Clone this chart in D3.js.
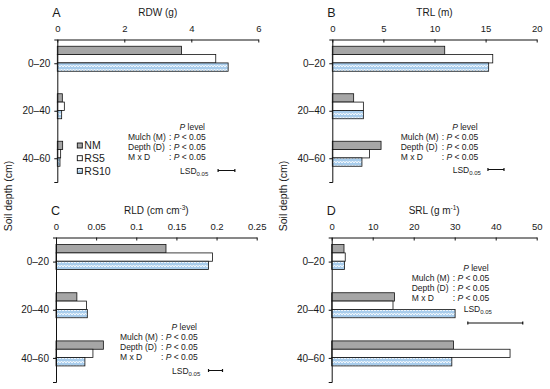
<!DOCTYPE html>
<html>
<head>
<meta charset="utf-8">
<script src="https://cdn.jsdelivr.net/npm/d3@7"></script>
<style>
  body { margin: 0; background: #fff; }
  svg { font-family: "Liberation Sans", Arial, sans-serif; }
  text { fill: #1a1a1a; }
</style>
</head>
<body>
<div class="chart"></div>
<script>
// --- data ---
const depths = ["0\u201320", "20\u201340", "40\u201360"];
const series = ["NM", "RS5", "RS10"];

const rdw = [[3.71, 4.73, 5.1], [0.15, 0.21, 0.13], [0.16, 0.1, 0.08]];
const trl = [[11.0, 15.7, 15.3], [2.09, 3.04, 3.04], [4.77, 3.63, 2.9]];
const rld = [[0.137, 0.195, 0.19], [0.026, 0.038, 0.039], [0.059, 0.046, 0.036]];
const srl = [[3.0, 3.3, 3.1], [15.3, 14.95, 30.1], [29.7, 43.5, 29.3]];

const rdwTicks = [0, 2, 4, 6];
const trlTicks = [0, 5, 10, 15, 20];
const rldTicks = [0, 0.05, 0.1, 0.15, 0.2, 0.25];
const srlTicks = [0, 10, 20, 30, 40, 50];

// LSD(0.05) bars: start value and length, in data units
const lsdStart = [4.8, 15.23, 0.19, 33.2];
const lsdValue = [0.5, 1.57, 0.0174, 13.4];

const statRows = ["Mulch (M)", "Depth (D)", "M x D"];

const width = 550, height = 389;
const svg = d3.select(".chart").append("svg")
  .attr("width", width)
  .attr("height", height);

// blue wave fill for RS10
const defs = svg.append("defs");
const pat = defs.append("pattern")
  .attr("id", "wave")
  .attr("patternUnits", "userSpaceOnUse")
  .attr("width", 6).attr("height", 4);
pat.append("rect").attr("width", 6).attr("height", 4).attr("fill", "#a9cdec");
pat.append("path")
  .attr("d", "M0,3 L1.5,1 L3,3 L4.5,1 L6,3")
  .attr("fill", "none").attr("stroke", "#fff").attr("stroke-width", 0.9);

const fills = ["#a6a6a6", "#ffffff", "url(#wave)"];

const panels = [
  { letter: "A", title: "RDW (g)", data: rdw, ticks: rdwTicks, max: 6,
    x0: 57.3, x1: 258.3, top: 39.5, bottom: 182, note: [70.7, 90], lsdDy: 44, lsdBarDy: 44, legend: true },
  { letter: "B", title: "TRL (m)", data: trl, ticks: trlTicks, max: 20,
    x0: 332.3, x1: 536.7, top: 39.5, bottom: 182, note: [68.4, 90], lsdDy: 43, lsdBarDy: 43 },
  { letter: "C", title: "RLD (cm cm", sup: "-3", title2: ")", data: rld, ticks: rldTicks, max: 0.25,
    x0: 56, x1: 256.7, top: 237.5, bottom: 382, note: [64, 92], lsdDy: 44, lsdBarDy: 44 },
  { letter: "D", title: "SRL (g m", sup: "-1", title2: ")", data: srl, ticks: srlTicks, max: 50,
    x0: 331.7, x1: 536.7, top: 237.5, bottom: 382, note: [80, 33], lsdDy: 41, lsdBarDy: 55.5 }
];

panels.forEach(function (p, pi) {
  const g = svg.append("g");

  const x = d3.scaleLinear().domain([0, p.max]).range([p.x0, p.x1]);
  const y = d3.scalePoint().domain(depths).range([p.top, p.bottom]).padding(0.5);
  const yInner = d3.scaleBand().domain(series).range([-17, 8]);

  // bars
  depths.forEach(function (dep, di) {
    series.forEach(function (s, si) {
      g.append("rect")
        .attr("x", x(0))
        .attr("y", y(dep) + yInner(s))
        .attr("width", x(p.data[di][si]) - x(0))
        .attr("height", yInner.bandwidth())
        .attr("fill", fills[si])
        .attr("stroke", "#111")
        .attr("stroke-width", 0.8);
    });
  });

  // value axis on top
  const xAxis = d3.axisTop(x)
    .tickValues(p.ticks)
    .tickFormat(d3.format("~g"))
    .tickSizeInner(-3)
    .tickSizeOuter(0)
    .tickPadding(8);
  const gx = g.append("g")
    .attr("transform", "translate(0," + p.top + ")")
    .call(xAxis);
  gx.selectAll("text").attr("font-size", "9.5px").attr("fill", "#1a1a1a");
  gx.selectAll("line, path").attr("stroke", "#111");

  // category axis
  const yAxis = d3.axisLeft(y).tickSize(3).tickSizeOuter(3).tickPadding(4);
  const gy = g.append("g")
    .attr("transform", "translate(" + p.x0 + ",0)")
    .call(yAxis);
  gy.selectAll("text").attr("font-size", "10px").attr("fill", "#1a1a1a");
  gy.selectAll("line, path").attr("stroke", "#111");

  // panel letter and title
  g.append("text")
    .attr("x", p.x0 - 5).attr("y", p.top - 23)
    .attr("font-size", "12.5px")
    .text(p.letter);

  const t = g.append("text")
    .attr("x", (p.x0 + p.x1) / 2).attr("y", p.top - 24)
    .attr("text-anchor", "middle")
    .attr("font-size", "10px");
  t.append("tspan").text(p.title);
  if (p.sup) {
    t.append("tspan").attr("font-size", "6.5px").attr("dy", -4).text(p.sup);
    t.append("tspan").attr("dy", 4).text(p.title2);
  }

  // statistics note
  const nx = p.x0 + p.note[0], ny = p.top + p.note[1];
  const fs = "8.5px";
  const pl = g.append("text")
    .attr("x", nx + 77).attr("y", ny)
    .attr("text-anchor", "end").attr("font-size", fs);
  pl.append("tspan").attr("font-style", "italic").text("P");
  pl.append("tspan").text(" level");

  statRows.forEach(function (r, ri) {
    const ry = ny + 10.5 + ri * 10.2;
    g.append("text").attr("x", nx).attr("y", ry).attr("font-size", fs).text(r);
    const st = g.append("text").attr("x", nx + 41).attr("y", ry).attr("font-size", fs);
    st.append("tspan").text(": ");
    st.append("tspan").attr("font-style", "italic").text("P");
    st.append("tspan").text(" < 0.05");
  });

  const lt = g.append("text")
    .attr("x", nx + 52).attr("y", ny + p.lsdDy)
    .attr("font-size", fs);
  lt.append("tspan").text("LSD");
  lt.append("tspan").attr("font-size", "6px").attr("dy", 2).text("0.05");

  // LSD bar
  const by = ny + p.lsdBarDy - 3;
  const bx0 = x(lsdStart[pi]), bx1 = x(lsdStart[pi] + lsdValue[pi]);
  g.append("path")
    .attr("d", "M" + bx0 + "," + by + "H" + bx1 +
      "M" + bx0 + "," + (by - 1.5) + "V" + (by + 1.5) +
      "M" + bx1 + "," + (by - 1.5) + "V" + (by + 1.5))
    .attr("stroke", "#111").attr("stroke-width", 1.2).attr("fill", "none");

  // legend
  if (p.legend) {
    series.forEach(function (s, si) {
      const ly = p.top + 106 + si * 12.7;
      g.append("rect")
        .attr("x", p.x0 + 20).attr("y", ly - 2.5)
        .attr("width", 5).attr("height", 5)
        .attr("fill", fills[si]).attr("stroke", "#111").attr("stroke-width", 0.9);
      g.append("text")
        .attr("x", p.x0 + 27).attr("y", ly + 3.8)
        .attr("font-size", "10.5px")
        .text(s);
    });
  }
});

// shared y title, one per column
[8, 283].forEach(function (tx) {
  svg.append("text")
    .attr("transform", "translate(" + (tx + 3.5) + ",196) rotate(-90)")
    .attr("text-anchor", "middle")
    .attr("font-size", "10.5px")
    .text("Soil depth (cm)");
});
</script>
</body>
</html>
